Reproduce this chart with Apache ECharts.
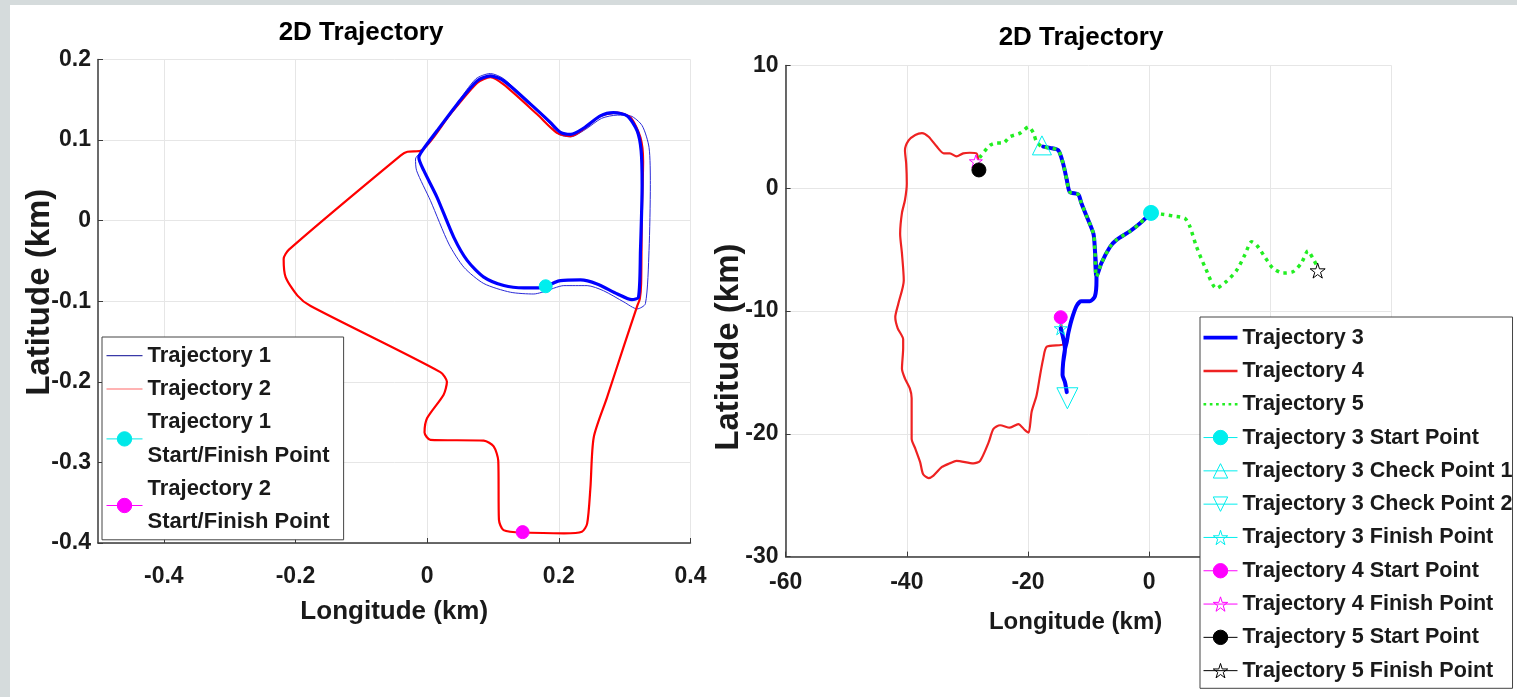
<!DOCTYPE html>
<html>
<head>
<meta charset="utf-8">
<title>2D Trajectory</title>
<script src="https://cdn.jsdelivr.net/npm/echarts@6.0.0/dist/echarts.min.js"></script>
<style>
  html, body { margin: 0; padding: 0; background: #fff; }
  #chart { width: 1517px; height: 697px; }
</style>
</head>
<body>
<div id="chart"></div>
<script>
// ---- left panel (km) ----
const leftXTicks = [-0.4, -0.2, 0, 0.2, 0.4];

// main blue lap (several laps drawn on top of each other)
const traj1Lap = [
  [0.180, -0.0818], [0.2025, -0.0744], [0.233, -0.0735], [0.258, -0.0785], [0.289, -0.091],
  [0.311, -0.098], [0.321, -0.095], [0.324, -0.037], [0.3265, 0.045], [0.325, 0.087],
  [0.319, 0.1115], [0.304, 0.130], [0.283, 0.134], [0.263, 0.130], [0.238, 0.115],
  [0.218, 0.107], [0.2025, 0.1095], [0.187, 0.122], [0.157, 0.1446], [0.1164, 0.1735],
  [0.096, 0.1797], [0.076, 0.1735], [0.0456, 0.1446], [0.015, 0.1115], [-0.0076, 0.0867],
  [-0.0127, 0.0785], [-0.005, 0.062], [0.015, 0.029], [0.0405, -0.0207], [0.061, -0.0496],
  [0.086, -0.070], [0.1164, -0.0805], [0.147, -0.0834], [0.167, -0.0834], [0.180, -0.0818]
];
// a wider lap
const traj1Outer = [
  [0.182, -0.087], [0.2075, -0.0806], [0.243, -0.0806], [0.268, -0.087], [0.299, -0.101],
  [0.319, -0.1095], [0.3315, -0.103], [0.337, -0.037], [0.339, 0.045], [0.337, 0.091],
  [0.3265, 0.118], [0.309, 0.130], [0.289, 0.131], [0.265, 0.127], [0.240, 0.113],
  [0.218, 0.104], [0.200, 0.107], [0.187, 0.120], [0.157, 0.1446], [0.1164, 0.176],
  [0.096, 0.1826], [0.074, 0.176], [0.0446, 0.1446], [0.013, 0.110], [-0.011, 0.084],
  [-0.0177, 0.0765], [-0.016, 0.062], [0.005, 0.0248], [0.033, -0.029], [0.056, -0.058],
  [0.086, -0.078], [0.1265, -0.0888], [0.162, -0.091], [0.182, -0.087]
];
const traj2Path = [
  [0.145, -0.387], [0.116, -0.384], [0.109, -0.371], [0.108, -0.298], [0.101, -0.280],
  [0.086, -0.273], [0.005, -0.272], [-0.004, -0.263], [0.0, -0.245], [0.025, -0.216],
  [0.030, -0.200], [0.020, -0.188], [-0.177, -0.106], [-0.197, -0.093], [-0.215, -0.070],
  [-0.218, -0.0475], [-0.210, -0.036], [-0.040, 0.081], [-0.030, 0.0855], [-0.010, 0.0867],
  [0.035, 0.132], [0.076, 0.171], [0.096, 0.178], [0.116, 0.169], [0.167, 0.132],
  [0.197, 0.109], [0.218, 0.105], [0.238, 0.114], [0.263, 0.130], [0.289, 0.134],
  [0.309, 0.128], [0.324, 0.103], [0.328, 0.074], [0.326, 0.004], [0.325, -0.078],
  [0.323, -0.097], [0.319, -0.106], [0.299, -0.155], [0.273, -0.220], [0.253, -0.269],
  [0.248, -0.331], [0.243, -0.376], [0.235, -0.386], [0.208, -0.388], [0.145, -0.387]
];
const traj1Point = [[0.180, -0.0814]];
const traj2Point = [[0.145, -0.3865]];

// ---- right panel (km) ----
const traj3Path = [
  [0.3, -2.0], [-1.5, -2.85], [-3.2, -3.5], [-5.4, -4.2], [-6.5, -4.8], [-7.9, -6.1], [-8.7, -7.2],
  [-8.96, -5.0], [-9.2, -3.7], [-10.3, -2.3], [-11.2, -1.2], [-11.7, -0.5], [-13.1, -0.3],
  [-13.6, 0.7], [-14.2, 2.0], [-15.0, 3.1], [-16.4, 3.3], [-17.5, 3.4],
  [-16.4, 3.3], [-15.0, 3.1], [-14.2, 2.0], [-13.6, 0.7], [-13.1, -0.3], [-11.7, -0.5],
  [-11.2, -1.2], [-10.3, -2.3], [-9.2, -3.7], [-8.96, -5.0], [-8.7, -7.2], [-8.7, -7.5],
  [-8.96, -8.8], [-9.8, -9.2], [-11.2, -9.2], [-12.0, -9.6], [-12.8, -10.7], [-13.35, -11.8],
  [-13.6, -12.5], [-13.9, -13.1], [-14.2, -14.2], [-14.3, -15.2], [-13.9, -15.8], [-13.6, -16.6],
  [-13.9, -15.8], [-14.3, -15.2], [-14.2, -14.2], [-13.9, -13.1], [-14.6, -11.4]
];
const traj4Path = [
  [-14.7, -10.5], [-14.3, -11.8], [-14.2, -12.7], [-16.9, -12.9], [-17.5, -13.9], [-18.0, -15.2],
  [-18.6, -16.9], [-19.4, -18.2], [-19.9, -19.9], [-20.5, -19.7], [-21.6, -19.2], [-23.0, -19.5],
  [-24.6, -19.3], [-25.7, -19.6], [-26.5, -20.7], [-27.9, -22.2], [-29.0, -22.4], [-31.8, -22.2],
  [-32.9, -22.4], [-34.2, -22.7], [-35.6, -23.4], [-36.4, -23.6], [-37.3, -23.3], [-37.8, -22.3],
  [-38.6, -21.2], [-39.2, -20.4], [-39.2, -17.1], [-39.5, -16.3], [-40.3, -15.5], [-40.8, -14.7],
  [-40.6, -13.0], [-40.6, -12.3], [-41.5, -11.4], [-41.9, -10.5], [-41.4, -9.4], [-40.5, -7.5],
  [-40.8, -5.3], [-41.1, -3.7], [-40.8, -2.0], [-40.3, -0.95], [-40.0, 0.4], [-40.1, 2.0],
  [-40.3, 3.1], [-39.7, 3.9], [-38.6, 4.35], [-37.5, 4.5], [-36.4, 4.2], [-35.05, 3.4],
  [-33.9, 2.85], [-32.9, 2.85], [-31.8, 2.6], [-30.7, 2.85], [-29.6, 2.9], [-28.5, 2.85], [-28.2, 2.4]
];
const traj5Path = [
  [-28.0, 2.5], [-26.3, 3.5], [-25.2, 3.7], [-24.1, 3.7], [-23.0, 4.2], [-21.3, 4.5], [-19.9, 5.0],
  [-19.1, 4.5], [-18.6, 3.8], [-17.7, 3.4], [-16.4, 3.3], [-15.0, 3.1], [-14.2, 2.0], [-13.6, 0.7],
  [-13.1, -0.3], [-11.7, -0.5], [-11.2, -1.2], [-10.3, -2.3], [-9.2, -3.7], [-8.96, -5.0], [-8.7, -7.2],
  [-7.9, -6.1], [-6.5, -4.8], [-5.4, -4.2], [-3.2, -3.5], [-1.5, -2.85], [0.3, -2.0], [2.0, -2.1],
  [4.0, -2.26], [5.9, -2.45], [6.7, -3.1], [7.8, -4.75], [9.2, -6.4], [11.1, -8.15], [12.7, -7.6],
  [14.4, -6.7], [15.8, -5.4], [16.9, -4.35], [17.7, -4.6], [19.1, -5.6], [20.4, -6.5], [22.1, -6.9],
  [23.7, -6.8], [25.1, -6.1], [26.2, -5.1], [27.0, -5.7], [27.9, -6.5]
];
const traj3Start = [[0.3, -2.0]];
const traj3Check1 = [[-17.7, 3.5]];
const traj3Check2 = [[-13.5, -17.1]];
const traj3Finish = [[-14.6, -11.4]];
const traj4Start = [[-14.6, -10.5]];
const traj4Finish = [[-28.6, 2.2]];
const traj5Start = [[-28.1, 1.5]];
const traj5Finish = [[27.8, -6.7]];

const FONT = 'Liberation Sans, Arial, sans-serif';
const TXT = '#1a1a1a';
const STAR = 'path://M50,2 L61.8,38.2 L99.5,38.2 L69,60.6 L80.6,96.6 L50,74.4 L19.4,96.6 L31,60.6 L0.5,38.2 L38.2,38.2 Z';
const TRI_DOWN = 'path://M0,0 L100,0 L50,90 Z';
const TRI_UP = 'path://M50,0 L100,90 L0,90 Z';
const barIcon = h => 'path://M0,0 h36 v' + h + ' h-36 Z';
const DOT_ICON = 'path://M0,0h3v3h-3z M7,0h3v3h-3z M14,0h3v3h-3z M21,0h3v3h-3z M28,0h3v3h-3z M35,0h3v3h-3z';

function pathSeries(name, data, grid, color, width, type) {
  return {
    name: name, type: 'line', data: data, xAxisIndex: grid, yAxisIndex: grid,
    symbol: 'none', smooth: 0.25,
    lineStyle: { color: color, width: width, type: type || 'solid', cap: type ? 'butt' : 'round', join: 'round' },
    itemStyle: { color: color }
  };
}
function pointSeries(name, data, grid, symbol, size, color, hollow) {
  return {
    name: name, type: 'line', data: data, xAxisIndex: grid, yAxisIndex: grid,
    symbol: symbol, symbolSize: size, showSymbol: true, z: 5,
    lineStyle: { color: color, width: 1 },
    itemStyle: { color: hollow ? 'rgba(0,0,0,0)' : color, borderColor: color, borderWidth: 1 }
  };
}
function legendLine(name, icon, color) {
  return { name: name, icon: icon, itemStyle: { color: color, borderWidth: 0 } };
}
function legendMark(name, color, hollow) {
  return {
    name: name,
    itemStyle: { color: hollow ? 'rgba(0,0,0,0)' : color, borderColor: color, borderWidth: 1 },
    lineStyle: { color: color, width: 1 }
  };
}

function axisCommon() {
  return {
    type: 'value',
    axisLine: { show: true, onZero: false, lineStyle: { color: '#3a3a3a', width: 1.5 } },
    axisTick: { show: true, inside: true, length: 5, lineStyle: { color: '#3a3a3a' } },
    splitLine: { show: true, lineStyle: { color: '#e6e6e6', width: 1 } },
    axisLabel: { color: TXT, fontSize: 23, fontWeight: 'bold', fontFamily: FONT },
    nameLocation: 'middle',
    nameMoveOverlap: false,
    nameTextStyle: { color: TXT, fontSize: 26, fontWeight: 'bold', fontFamily: FONT }
  };
}
const fmt1 = v => String(Math.round(v * 10) / 10);
const yNameStyle = pad => ({ color: TXT, fontSize: 33, fontWeight: 'bold', fontFamily: FONT, padding: pad });

const xLeft = Object.assign(axisCommon(), {
  gridIndex: 0, min: -0.5, max: 0.4, name: 'Longitude (km)', nameGap: 56
});
xLeft.axisTick.customValues = leftXTicks;
xLeft.axisLabel = Object.assign({}, xLeft.axisLabel, { customValues: leftXTicks, margin: 22, formatter: fmt1 });

const yLeft = Object.assign(axisCommon(), {
  gridIndex: 0, min: -0.4, max: 0.2, interval: 0.1, name: 'Latitude (km)', nameGap: 42, nameRotate: 90,
  nameTextStyle: yNameStyle([0, 0, 0, 18])
});
yLeft.axisLabel = Object.assign({}, yLeft.axisLabel, { margin: 7, formatter: fmt1 });

const xRight = Object.assign(axisCommon(), {
  gridIndex: 1, min: -60, max: 40, interval: 20, name: 'Longitude (km)', nameGap: 54
});
xRight.nameTextStyle = Object.assign({}, xRight.nameTextStyle, { fontSize: 24, padding: [0, 26, 0, 0] });
xRight.axisLabel = Object.assign({}, xRight.axisLabel, { margin: 15 });

const yRight = Object.assign(axisCommon(), {
  gridIndex: 1, min: -30, max: 10, interval: 10, name: 'Latitude (km)', nameGap: 40, nameRotate: 90,
  nameTextStyle: yNameStyle([0, 72, 0, 0])
});
yRight.axisLabel = Object.assign({}, yRight.axisLabel, { margin: 7 });

const legendTextL = { color: TXT, fontSize: 22, fontWeight: 'bold', fontFamily: FONT, lineHeight: 33.3 };
const legendTextR = { color: TXT, fontSize: 21.6, fontWeight: 'bold', fontFamily: FONT, lineHeight: 33.3 };

const option = {
  animation: false,
  backgroundColor: '#fff',
  graphic: [
    { type: 'rect', shape: { x: 0, y: 0, width: 1517, height: 5 }, style: { fill: '#d5dbdc' }, silent: true },
    { type: 'rect', shape: { x: 0, y: 0, width: 10, height: 697 }, style: { fill: '#d5dbdc' }, silent: true }
  ],
  title: [
    { text: '2D Trajectory', left: 356, top: 15, textAlign: 'center',
      textStyle: { color: '#000', fontSize: 26, fontWeight: 'bold', fontFamily: FONT } },
    { text: '2D Trajectory', left: 1076, top: 20, textAlign: 'center',
      textStyle: { color: '#000', fontSize: 26, fontWeight: 'bold', fontFamily: FONT } }
  ],
  grid: [
    { left: 98, top: 59.5, width: 592.5, height: 483.5 },
    { left: 785.6, top: 65.6, width: 606, height: 491 }
  ],
  xAxis: [xLeft, xRight],
  yAxis: [yLeft, yRight],
  legend: [
    {
      orient: 'vertical', left: 102, top: 337, itemGap: 0, itemWidth: 36, itemHeight: 18,
      padding: [2, 14, 1, 4], backgroundColor: '#fff', borderColor: '#444', borderWidth: 1,
      textStyle: legendTextL, selectedMode: false,
      formatter: n => n.replace(' Start', '\nStart'),
      data: [
        legendLine('Trajectory 1', barIcon(1.4), '#3a3aa8'),
        legendLine('Trajectory 2', barIcon(1.4), '#ff9a9a'),
        legendMark('Trajectory 1 Start/Finish Point', '#00e8e8', false),
        legendMark('Trajectory 2 Start/Finish Point', '#ff00ff', false)
      ]
    },
    {
      orient: 'vertical', left: 1200, top: 317, itemGap: 0, itemWidth: 34, itemHeight: 18,
      padding: [4, 0, 1, 3], backgroundColor: '#fff', borderColor: '#444', borderWidth: 1,
      textStyle: legendTextR, selectedMode: false,
      data: [
        legendLine('Trajectory 3', barIcon(4), '#0000ff'),
        legendLine('Trajectory 4', barIcon(2.5), '#ee2222'),
        legendLine('Trajectory 5', DOT_ICON, '#22ee22'),
        legendMark('Trajectory 3 Start Point', '#00eeee', false),
        legendMark('Trajectory 3 Check Point 1', '#00eeee', true),
        legendMark('Trajectory 3 Check Point 2', '#00eeee', true),
        legendMark('Trajectory 3 Finish Point', '#00eeee', true),
        legendMark('Trajectory 4 Start Point', '#ff00ff', false),
        legendMark('Trajectory 4 Finish Point', '#ff00ff', true),
        legendMark('Trajectory 5 Start Point', '#000000', false),
        legendMark('Trajectory 5 Finish Point', '#000000', true)
      ]
    }
  ],
  series: [
    pathSeries('Trajectory 1', traj1Outer, 0, '#2a2ad8', 1),
    pathSeries('Trajectory 2', traj2Path, 0, '#ff0000', 2.2),
    pathSeries('Trajectory 1', traj1Lap, 0, '#0000ff', 3.2),
    pointSeries('Trajectory 1 Start/Finish Point', traj1Point, 0, 'circle', 13, '#00eeee', false),
    pointSeries('Trajectory 2 Start/Finish Point', traj2Point, 0, 'circle', 13, '#ff00ff', false),

    pathSeries('Trajectory 4', traj4Path, 1, '#ee2222', 2.2),
    pathSeries('Trajectory 3', traj3Path, 1, '#0000ff', 4),
    pathSeries('Trajectory 5', traj5Path, 1, '#22ee22', 3.5, [3.5, 4.5]),
    pointSeries('Trajectory 3 Start Point', traj3Start, 1, 'circle', 15, '#00eeee', false),
    pointSeries('Trajectory 3 Check Point 1', traj3Check1, 1, TRI_UP, 19, '#00eeee', true),
    pointSeries('Trajectory 3 Check Point 2', traj3Check2, 1, TRI_DOWN, 21, '#00eeee', true),
    pointSeries('Trajectory 3 Finish Point', traj3Finish, 1, STAR, 13, '#00eeee', true),
    pointSeries('Trajectory 4 Start Point', traj4Start, 1, 'circle', 13, '#ff00ff', false),
    pointSeries('Trajectory 4 Finish Point', traj4Finish, 1, STAR, 13, '#ff00ff', true),
    pointSeries('Trajectory 5 Start Point', traj5Start, 1, 'circle', 14, '#000000', false),
    pointSeries('Trajectory 5 Finish Point', traj5Finish, 1, STAR, 15, '#000000', true)
  ]
};

const chart = echarts.init(document.getElementById('chart'));
chart.setOption(option);
</script>
</body>
</html>
